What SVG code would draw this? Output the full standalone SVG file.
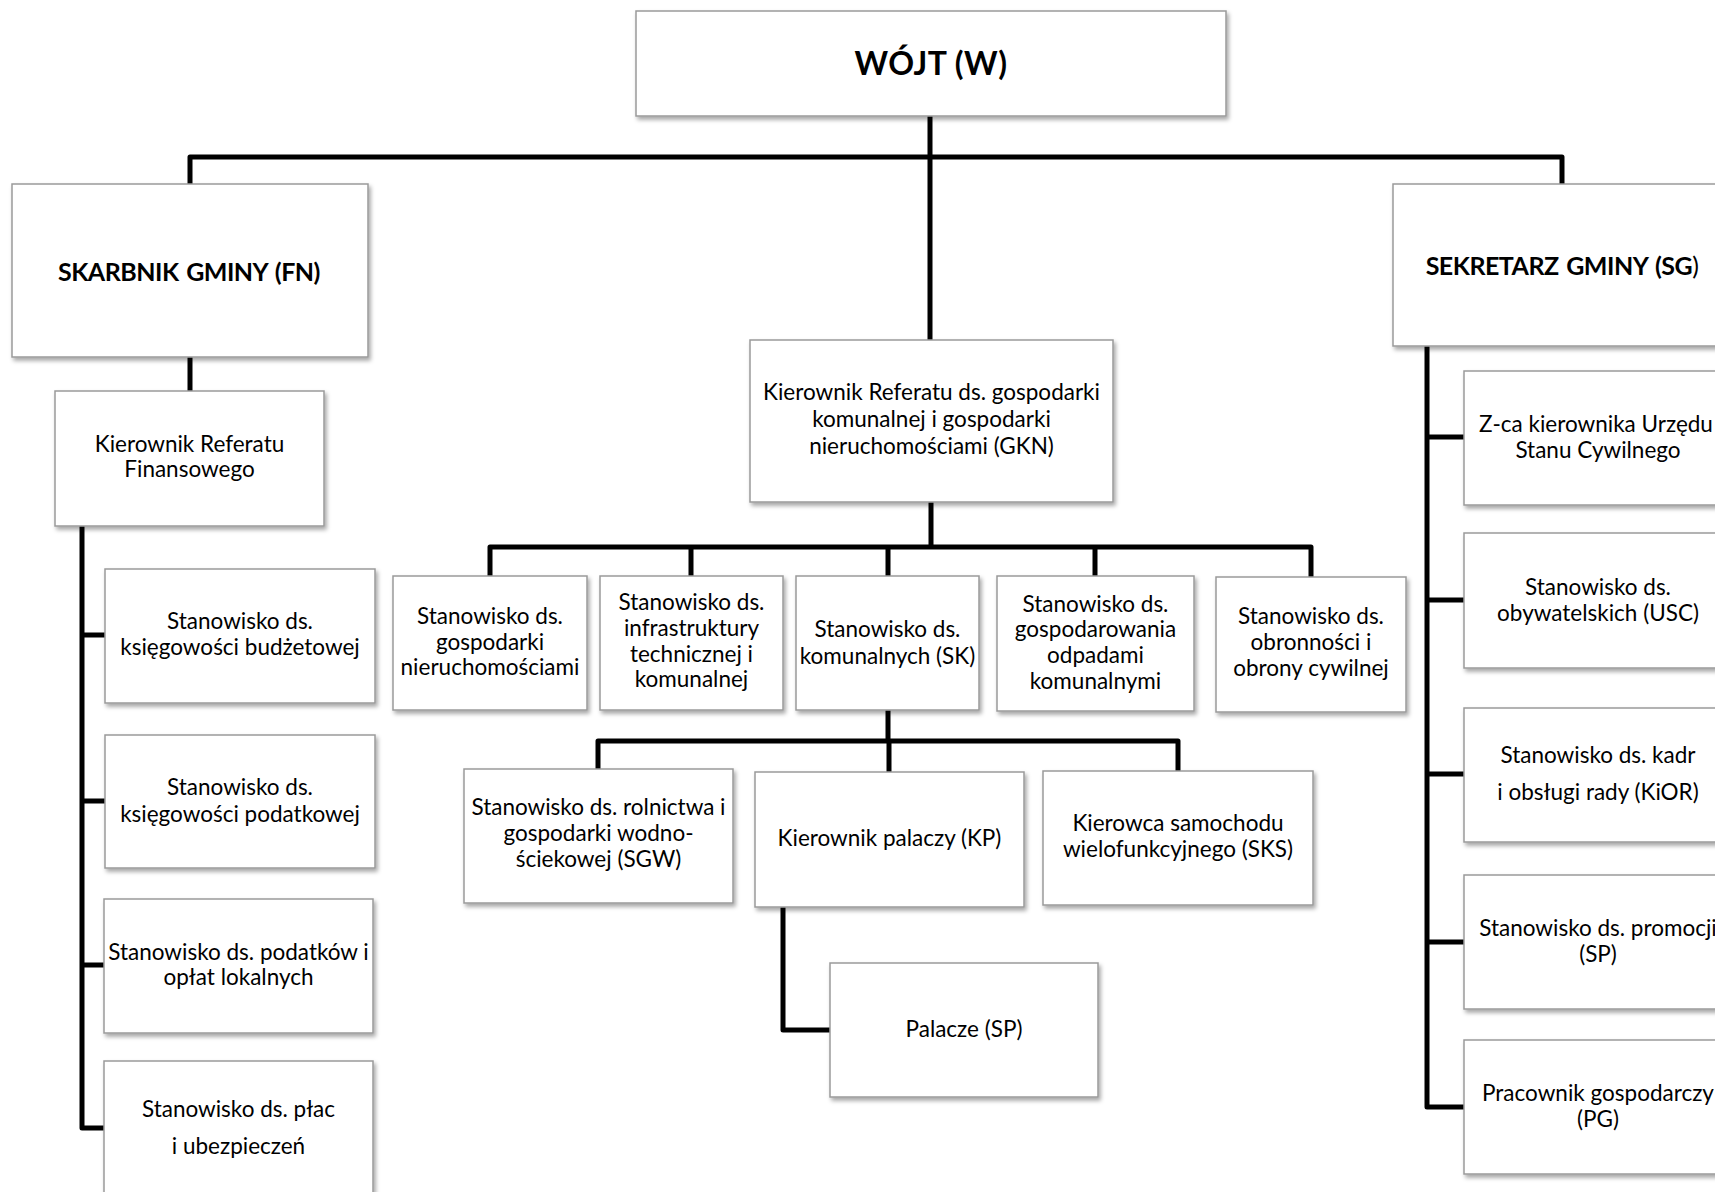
<svg xmlns="http://www.w3.org/2000/svg" width="1715" height="1192" viewBox="0 0 1715 1192">
<defs>
<filter id="sh" x="-10%" y="-10%" width="130%" height="130%">
<feDropShadow dx="2" dy="3" stdDeviation="2" flood-color="#000" flood-opacity="0.35"/>
</filter>
<style>
.box{fill:#fff;stroke:#9a9a9a;stroke-width:1.5;filter:url(#sh)}
.t{font-family:Lato,"Liberation Sans",sans-serif;font-size:22.5px;text-anchor:middle;fill:#000}
.b{font-weight:bold;font-size:25px;letter-spacing:-0.5px;word-spacing:2px}
.w{font-weight:bold;font-size:32px;letter-spacing:0.5px}
.c{fill:none;stroke:#000;stroke-width:5;stroke-linejoin:round}
</style>
</defs>
<rect width="1715" height="1192" fill="#fff"/>
<g id="connectors">
<path class="c" d="M930,116 V340"/>
<path class="c" d="M190,184 V157 H1562 V184"/>
<path class="c" d="M190,357 V391"/>
<path class="c" d="M82,526 V1128 H104 M82,635 H105 M82,801 H105 M82,965 H104"/>
<path class="c" d="M931,502 V547 M490,576 V547 H1311 V577 M691,547 V576 M888,547 V576 M1095,547 V576"/>
<path class="c" d="M888,710 V741 M598,769 V741 H1178 V771 M889,741 V772"/>
<path class="c" d="M783,907 V1030 H830"/>
<path class="c" d="M1427,346 V1107 H1464 M1427,437 H1464 M1427,600 H1464 M1427,774 H1464 M1427,942 H1464"/>
</g>
<g id="n_wojt"><rect class="box" x="636" y="11" width="590" height="105"/><text class="t w" x="931" y="75">WÓJT (W)</text></g>
<g id="n_fn"><rect class="box" x="12" y="184" width="356" height="173"/><text class="t b" x="189" y="281">SKARBNIK GMINY (FN)</text></g>
<g id="n_sg"><rect class="box" x="1393" y="184" width="339" height="162"/><text class="t b" x="1562" y="275">SEKRETARZ GMINY (SG<tspan font-weight="normal">)</tspan></text></g>
<g id="n_krf"><rect class="box" x="55" y="391" width="269" height="135"/><text class="t"><tspan x="189.5" y="452">Kierownik Referatu</tspan><tspan x="189.5" y="477">Finansowego</tspan></text></g>
<g id="n_l1"><rect class="box" x="105" y="569" width="270" height="134"/><text class="t"><tspan x="240" y="629">Stanowisko ds.</tspan><tspan x="240" y="655">księgowości budżetowej</tspan></text></g>
<g id="n_l2"><rect class="box" x="105" y="735" width="270" height="133"/><text class="t"><tspan x="240" y="795">Stanowisko ds.</tspan><tspan x="240" y="822">księgowości podatkowej</tspan></text></g>
<g id="n_l3"><rect class="box" x="104" y="899" width="269" height="134"/><text class="t"><tspan x="238.5" y="960">Stanowisko ds. podatków i</tspan><tspan x="238.5" y="985">opłat lokalnych</tspan></text></g>
<g id="n_l4"><rect class="box" x="104" y="1061" width="269" height="140"/><text class="t"><tspan x="238.5" y="1117">Stanowisko ds. płac</tspan><tspan x="238.5" y="1154">i ubezpieczeń</tspan></text></g>
<g id="n_gkn"><rect class="box" x="750" y="340" width="363" height="162"/><text class="t"><tspan x="931.5" y="400">Kierownik Referatu ds. gospodarki</tspan><tspan x="931.5" y="427">komunalnej i gospodarki</tspan><tspan x="931.5" y="454">nieruchomościami (GKN)</tspan></text></g>
<g id="n_r1"><rect class="box" x="393" y="576" width="194" height="134"/><text class="t"><tspan x="490" y="624">Stanowisko ds.</tspan><tspan x="490" y="650">gospodarki</tspan><tspan x="490" y="675">nieruchomościami</tspan></text></g>
<g id="n_r2"><rect class="box" x="600" y="576" width="183" height="134"/><text class="t"><tspan x="691.5" y="610">Stanowisko ds.</tspan><tspan x="691.5" y="636">infrastruktury</tspan><tspan x="691.5" y="662">technicznej i</tspan><tspan x="691.5" y="687">komunalnej</tspan></text></g>
<g id="n_r3"><rect class="box" x="796" y="576" width="183" height="134"/><text class="t"><tspan x="887.5" y="637">Stanowisko ds.</tspan><tspan x="887.5" y="664">komunalnych (SK)</tspan></text></g>
<g id="n_r4"><rect class="box" x="997" y="576" width="197" height="135"/><text class="t"><tspan x="1095.5" y="612">Stanowisko ds.</tspan><tspan x="1095.5" y="637">gospodarowania</tspan><tspan x="1095.5" y="663">odpadami</tspan><tspan x="1095.5" y="689">komunalnymi</tspan></text></g>
<g id="n_r5"><rect class="box" x="1216" y="577" width="190" height="135"/><text class="t"><tspan x="1311" y="624">Stanowisko ds.</tspan><tspan x="1311" y="650">obronności i</tspan><tspan x="1311" y="676">obrony cywilnej</tspan></text></g>
<g id="n_sgw"><rect class="box" x="464" y="769" width="269" height="134"/><text class="t"><tspan x="598.5" y="815">Stanowisko ds. rolnictwa i</tspan><tspan x="598.5" y="841">gospodarki wodno-</tspan><tspan x="598.5" y="867">ściekowej (SGW)</tspan></text></g>
<g id="n_kp"><rect class="box" x="755" y="772" width="269" height="135"/><text class="t" x="889.5" y="846">Kierownik palaczy (KP)</text></g>
<g id="n_sks"><rect class="box" x="1043" y="771" width="270" height="134"/><text class="t"><tspan x="1178" y="831">Kierowca samochodu</tspan><tspan x="1178" y="857">wielofunkcyjnego (SKS)</tspan></text></g>
<g id="n_pal"><rect class="box" x="830" y="963" width="268" height="134"/><text class="t" x="964" y="1037">Palacze (SP)</text></g>
<g id="n_s1"><rect class="box" x="1464" y="371" width="268" height="134"/><text class="t"><tspan x="1596" y="432">Z-ca kierownika Urzędu</tspan><tspan x="1598" y="458">Stanu Cywilnego</tspan></text></g>
<g id="n_s2"><rect class="box" x="1464" y="533" width="268" height="135"/><text class="t"><tspan x="1598" y="595">Stanowisko ds.</tspan><tspan x="1598" y="621">obywatelskich (USC)</tspan></text></g>
<g id="n_s3"><rect class="box" x="1464" y="708" width="268" height="134"/><text class="t"><tspan x="1598" y="763">Stanowisko ds. kadr</tspan><tspan x="1598" y="800">i obsługi rady (KiOR)</tspan></text></g>
<g id="n_s4"><rect class="box" x="1464" y="875" width="268" height="134"/><text class="t"><tspan x="1598" y="936">Stanowisko ds. promocji</tspan><tspan x="1598" y="962">(SP)</tspan></text></g>
<g id="n_s5"><rect class="box" x="1464" y="1040" width="268" height="134"/><text class="t"><tspan x="1598" y="1101">Pracownik gospodarczy</tspan><tspan x="1598" y="1127">(PG)</tspan></text></g>
</svg>
